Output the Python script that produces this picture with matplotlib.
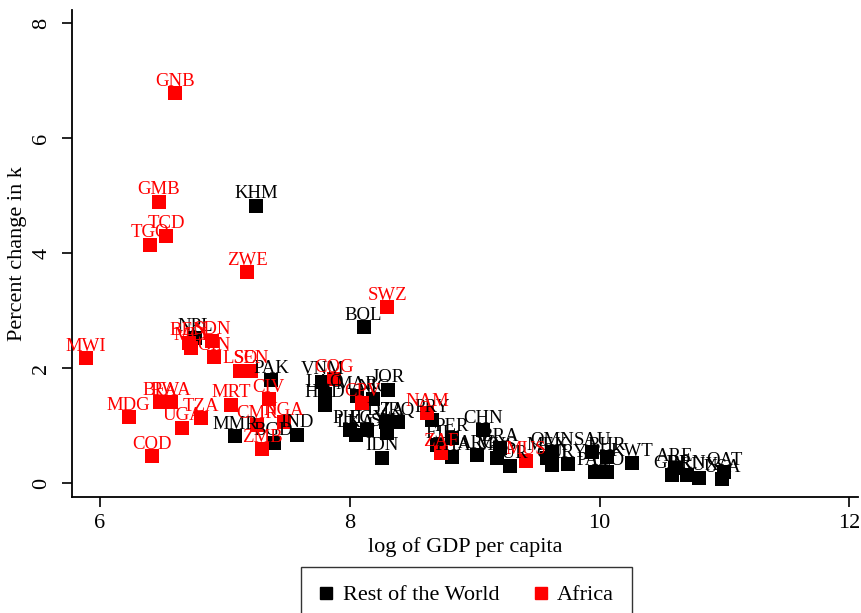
import numpy as np
import matplotlib
matplotlib.use("Agg")
import matplotlib.pyplot as plt
from matplotlib.lines import Line2D

plt.rcParams['font.family'] = ['Liberation Serif', 'DejaVu Serif']

# Rest of the world: country code, log GDP per capita, percent change in k
row_codes = ["KHM", "BOL", "NPL", "PAK", "MMR", "BGD", "IND", "VNM", "LAO", "HND",
             "MAR", "NIC", "JOR", "PHL", "LKA", "EGY", "DZA", "IRQ", "SLV", "IDN",
             "PRY", "FJI", "PER", "THA", "CHN", "ARG", "BRA", "MYS", "TUR", "OMN",
             "MEX", "CRI", "URY", "SAU", "BHR", "PAN", "TTO", "KWT", "ARE", "GBR",
             "BRN", "LUX", "QAT", "USA"]
row_gdp = [7.25, 8.11, 6.76, 7.37, 7.08, 7.39, 7.58, 7.78, 7.80, 7.80,
           8.06, 8.19, 8.31, 8.00, 8.05, 8.14, 8.29, 8.39, 8.30, 8.26,
           8.66, 8.70, 8.82, 8.82, 9.07, 9.02, 9.20, 9.18, 9.28, 9.62,
           9.58, 9.62, 9.75, 9.94, 10.06, 9.96, 10.06, 10.26, 10.60, 10.58,
           10.70, 10.80, 11.00, 10.98]
row_k = [4.82, 2.71, 2.52, 1.79, 0.82, 0.70, 0.84, 1.76, 1.55, 1.36,
         1.51, 1.46, 1.62, 0.92, 0.84, 0.92, 1.06, 1.06, 0.87, 0.44,
         1.10, 0.66, 0.78, 0.45, 0.92, 0.49, 0.61, 0.44, 0.30, 0.54,
         0.44, 0.31, 0.33, 0.54, 0.45, 0.19, 0.19, 0.35, 0.26, 0.14,
         0.14, 0.10, 0.19, 0.07]

# Africa
afr_codes = ["GNB", "GMB", "TCD", "TGO", "ZWE", "SWZ", "MWI", "BEN", "MLI", "SDN",
             "GIN", "LSO", "SEN", "BFA", "RWA", "MDG", "UGA", "TZA", "COD", "MRT",
             "CIV", "CMR", "NGA", "ZMB", "COG", "CPV", "NAM", "ZAF", "MUS"]
afr_gdp = [6.60, 6.47, 6.53, 6.40, 7.18, 8.30, 5.89, 6.71, 6.73, 6.90,
           6.91, 7.12, 7.21, 6.48, 6.57, 6.23, 6.66, 6.81, 6.42, 7.05,
           7.35, 7.26, 7.47, 7.30, 7.87, 8.10, 8.62, 8.73, 9.41]
afr_k = [6.78, 4.89, 4.30, 4.14, 3.67, 3.06, 2.17, 2.44, 2.35, 2.47,
         2.19, 1.95, 1.95, 1.41, 1.41, 1.15, 0.97, 1.13, 0.47, 1.36,
         1.46, 1.01, 1.06, 0.59, 1.81, 1.39, 1.22, 0.52, 0.38]

fig = plt.figure(figsize=(8.62, 6.13), dpi=100)
ax = fig.add_axes([0.0835, 0.189, 0.912, 0.795])

ms = 88
ax.scatter(row_gdp, row_k, marker='s', s=ms, color='black', linewidths=0, zorder=3)
ax.scatter(afr_gdp, afr_k, marker='s', s=ms, color='red', linewidths=0, zorder=3)

for c, x, y in zip(row_codes, row_gdp, row_k):
    ax.annotate(c, (x, y), xytext=(0, 5.5), textcoords='offset points',
                ha='center', va='baseline', fontsize=13.5, color='black', zorder=4)
for c, x, y in zip(afr_codes, afr_gdp, afr_k):
    ax.annotate(c, (x, y), xytext=(0, 5.5), textcoords='offset points',
                ha='center', va='baseline', fontsize=13.5, color='red', zorder=4)

ax.set_xlim(5.776, 12.07)
ax.set_ylim(-0.24, 8.23)
ax.set_xticks([6, 8, 10, 12])
ax.set_yticks([0, 2, 4, 6, 8])
ax.tick_params(axis='both', direction='out', length=7, width=1.2, labelsize=16, pad=5)
ax.tick_params(axis='y', pad=8)
plt.setp(ax.get_yticklabels(), rotation=90, va='center')

for side in ['top', 'right']:
    ax.spines[side].set_visible(False)
for side in ['left', 'bottom']:
    ax.spines[side].set_linewidth(1.3)

ax.set_xlabel("log of GDP per capita", fontsize=16, labelpad=3)
ax.set_ylabel("Percent change in k", fontsize=16, labelpad=4)

handles = [Line2D([], [], marker='s', color='black', linestyle='none', markersize=9),
           Line2D([], [], marker='s', color='red', linestyle='none', markersize=9)]
leg = fig.legend(handles, ["Rest of the World", "Africa"], loc='upper center',
                 bbox_to_anchor=(0.541, 0.075), borderaxespad=0, ncol=2, fontsize=16,
                 frameon=True, fancybox=False, edgecolor='black', borderpad=0.8,
                 handletextpad=0.4, columnspacing=1.5, handlelength=0.7)
leg.get_frame().set_linewidth(1.0)

fig.savefig("out.png", dpi=100)
